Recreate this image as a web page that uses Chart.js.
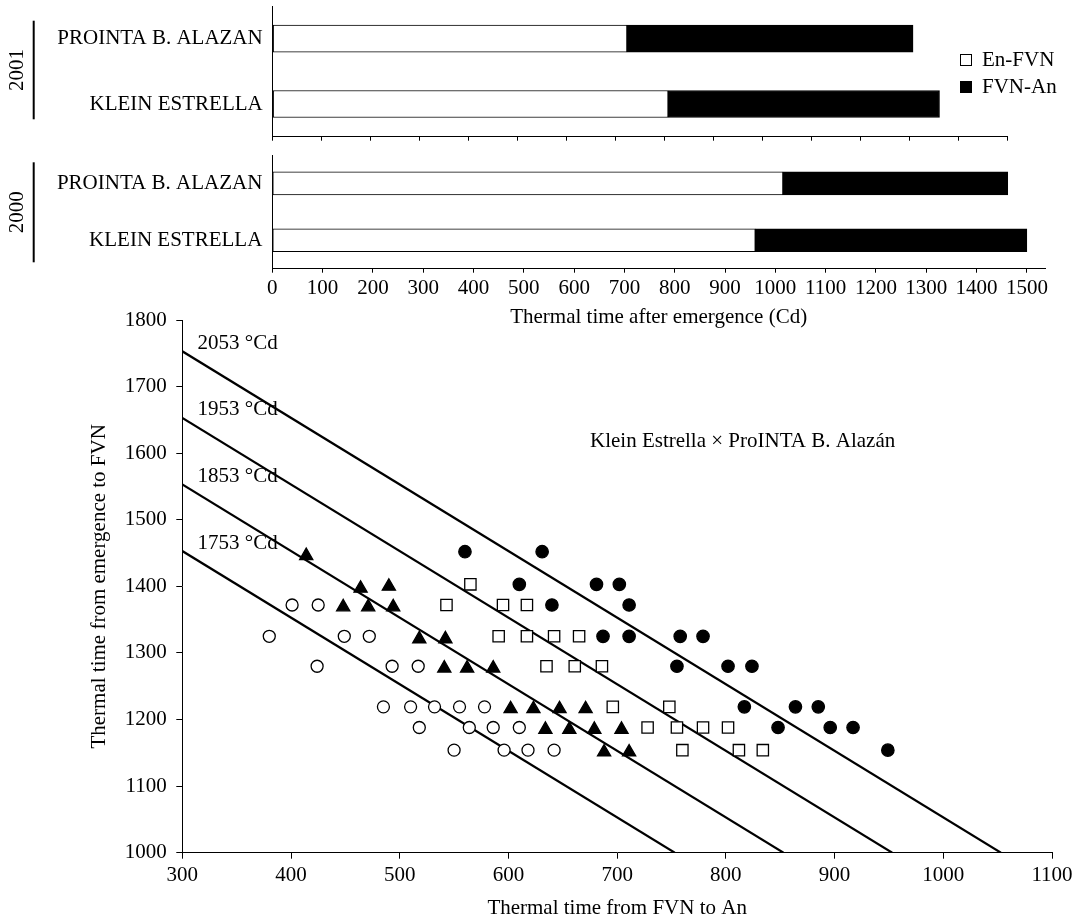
<!DOCTYPE html>
<html>
<head>
<meta charset="utf-8">
<script src="https://cdn.jsdelivr.net/npm/chart.js@4.4.0/dist/chart.umd.min.js"></script>
<style>
    html, body { margin: 0; padding: 0; background: #fff; }
    #wrap { position: relative; width: 1081px; height: 921px; overflow: hidden; background: #fff; }
    #wrap canvas { position: absolute; left: 0; }
</style>
</head>
<body>
<div id="wrap">
    <canvas id="bars2001" width="1081" height="150" style="top:0"></canvas>
    <canvas id="bars2000" width="1081" height="180" style="top:150px"></canvas>
    <canvas id="scatter" width="1081" height="621" style="top:300px"></canvas>
</div>
<script>
// cultivars, top to bottom in each panel
var cultivars = ['PROINTA B. ALAZAN', 'KLEIN ESTRELLA'];

// thermal time (Cd) of each phase
var enFvn2001 = [723, 807];
var fvnAn2001 = [584, 554];
var enFvn2000 = [1015, 960];
var fvnAn2000 = [447, 540];

// scatter: [FVN to An, emergence to FVN]
var openCircles = [[380, 1325], [401, 1372], [425, 1372], [424, 1280], [449, 1325], [472, 1325], [485, 1219],
    [493, 1280], [510, 1219], [517, 1280], [518, 1188], [532, 1219], [550, 1154], [555, 1219], [564, 1188],
    [578, 1219], [586, 1188], [596, 1154], [610, 1188], [618, 1154], [642, 1154]];
var filledTriangles = [[414, 1446], [464, 1397], [490, 1400], [448, 1369], [471, 1369], [494, 1369], [518, 1321],
    [542, 1321], [541, 1277], [562, 1277], [586, 1277], [602, 1216], [623, 1216], [647, 1216], [671, 1216],
    [634, 1185], [656, 1185], [679, 1185], [704, 1185], [688, 1151], [711, 1151]];
var openSquares = [[565, 1403], [543, 1372], [595, 1372], [617, 1372], [591, 1325], [617, 1325], [642, 1325],
    [665, 1325], [635, 1280], [661, 1280], [686, 1280], [696, 1219], [748, 1219], [728, 1188], [755, 1188],
    [779, 1188], [802, 1188], [760, 1154], [812, 1154], [834, 1154]];
var filledCircles = [[560, 1452], [631, 1452], [610, 1403], [681, 1403], [702, 1403], [640, 1372], [711, 1372],
    [687, 1325], [711, 1325], [758, 1325], [779, 1325], [755, 1280], [802, 1280], [824, 1280], [817, 1219],
    [864, 1219], [885, 1219], [848, 1188], [896, 1188], [917, 1188], [949, 1154]];

// iso thermal time lines
var isoLabels = ['1753 °Cd', '1853 °Cd', '1953 °Cd', '2053 °Cd'];
var isoStartY = [1453, 1553, 1653, 1753];   // y where x = 300
var isoEndX = [753, 853, 953, 1053];        // x where y = 1000

var FONT_FAMILY = "'Liberation Serif', 'Times New Roman', serif";
Chart.defaults.font.family = FONT_FAMILY;
Chart.defaults.font.size = 21;
Chart.defaults.color = '#000';

var plainNumber = function (value) {
    return String(value);
};

var figureText = {
    id: 'figureText',
    afterDraw: function (chart, args, opts) {
        var ctx = chart.ctx;
        ctx.save();
        ctx.fillStyle = '#000';
        ctx.strokeStyle = '#000';
        ctx.font = '21px ' + FONT_FAMILY;
        ctx.textBaseline = 'middle';
        if (opts.bracket) {
            var b = opts.bracket;
            ctx.lineWidth = 2;
            ctx.beginPath();
            ctx.moveTo(b.x, b.top);
            ctx.lineTo(b.x, b.bottom);
            ctx.stroke();
            ctx.save();
            ctx.translate(b.textX, (b.top + b.bottom) / 2);
            ctx.rotate(-Math.PI / 2);
            ctx.textAlign = 'center';
            ctx.fillText(b.text, 0, 0);
            ctx.restore();
        }
        if (opts.legend) {
            var lg = opts.legend;
            chart.data.datasets.forEach(function (ds, i) {
                var cy = lg.y + i * lg.gap;
                ctx.lineWidth = 1;
                ctx.fillStyle = ds.backgroundColor;
                ctx.fillRect(lg.x, cy - 6, 12, 12);
                ctx.strokeRect(lg.x + 0.5, cy - 5.5, 11, 11);
                ctx.fillStyle = '#000';
                ctx.textAlign = 'left';
                ctx.fillText(ds.label, lg.x + 22, cy);
            });
        }
        (opts.notes || []).forEach(function (n) {
            ctx.textAlign = 'left';
            ctx.fillText(n.text, chart.scales.x.getPixelForValue(n.x), chart.scales.y.getPixelForValue(n.y));
        });
        ctx.restore();
    }
};

// vertical axes: fixed width, and no extra room above/below for the end labels
var fixWidth = function (w) {
    return function (s) {
        s.width = w;
        s.paddingTop = 0;
        s.paddingBottom = 0;
    };
};

var barDataset = function (label, data, fill) {
    return {
        label: label,
        data: data,
        backgroundColor: fill,
        borderColor: '#000',
        borderWidth: 1,
        borderSkipped: false
    };
};

var barOptions = function (cfg) {
    return {
        indexAxis: 'y',
        responsive: false,
        animation: false,
        devicePixelRatio: 1,
        layout: { padding: { top: cfg.top, right: cfg.right, left: 0, bottom: 0 } },
        datasets: { bar: { barThickness: cfg.thickness } },
        plugins: {
            legend: { display: false },
            tooltip: { enabled: false },
            figureText: { bracket: cfg.bracket, legend: cfg.legend }
        },
        scales: {
            x: {
                stacked: true,
                min: 0,
                max: cfg.max,
                ticks: {
                    display: cfg.labels, stepSize: 100, includeBounds: false, padding: 3, color: '#000',
                    maxRotation: 0, minRotation: 0, autoSkip: false, callback: plainNumber
                },
                grid: { drawOnChartArea: false, drawTicks: true, tickLength: 4, color: '#000' },
                border: { color: '#000', width: 1 },
                title: {
                    display: !!cfg.title,
                    text: cfg.title || '',
                    padding: 0,
                    color: '#000'
                },
                afterFit: function (s) { s.height = cfg.axisHeight; }
            },
            y: {
                stacked: true,
                ticks: { padding: 10, color: '#000' },
                grid: { display: false, drawTicks: false },
                border: { color: '#000', width: 1 },
                afterFit: fixWidth(cfg.left)
            }
        }
    };
};

new Chart(document.getElementById('bars2001'), {
    type: 'bar',
    data: {
        labels: cultivars,
        datasets: [barDataset('En-FVN', enFvn2001, '#fff'), barDataset('FVN-An', fvnAn2001, '#000')]
    },
    options: barOptions({
        top: 6, right: 73.4, left: 272.7, max: 1500, thickness: 27, labels: false, axisHeight: 13.3,
        bracket: { x: 33.7, top: 20.7, bottom: 119.3, textX: 17, text: '2001' },
        legend: { x: 960, y: 60, gap: 27 }
    }),
    plugins: [figureText]
});

new Chart(document.getElementById('bars2000'), {
    type: 'bar',
    data: {
        labels: cultivars,
        datasets: [barDataset('En-FVN', enFvn2000, '#fff'), barDataset('FVN-An', fvnAn2000, '#000')]
    },
    options: barOptions({
        top: 5, right: 36, left: 272.3, max: 1536, thickness: 23, labels: true, axisHeight: 61.3,
        title: 'Thermal time after emergence (Cd)',
        bracket: { x: 33.7, top: 12.3, bottom: 112.3, textX: 17, text: '2000' }
    }),
    plugins: [figureText]
});

var markerSet = function (label, points, style, fill, radius) {
    return {
        label: label,
        data: points.map(function (p) { return { x: p[0], y: p[1] }; }),
        pointStyle: style,
        pointRadius: radius,
        pointBackgroundColor: fill,
        pointBorderColor: '#000',
        pointBorderWidth: 1.3,
        showLine: false
    };
};

var scatterSets = [
    markerSet('open circles', openCircles, 'circle', '#fff', 6),
    markerSet('filled triangles', filledTriangles, 'triangle', '#000', 7.6),
    markerSet('open squares', openSquares, 'rect', '#fff', 8),
    markerSet('filled circles', filledCircles, 'circle', '#000', 6.2)
];
isoLabels.forEach(function (lab, i) {
    scatterSets.push({
        label: lab,
        data: [{ x: 300, y: isoStartY[i] }, { x: isoEndX[i], y: 1000 }],
        showLine: true,
        borderColor: '#000',
        borderWidth: 2.2,
        pointRadius: 0
    });
});

var axisCommon = {
    grid: { drawOnChartArea: false, drawTicks: true, tickLength: 6, color: '#000' },
    border: { color: '#000', width: 1 }
};

new Chart(document.getElementById('scatter'), {
    type: 'scatter',
    data: { datasets: scatterSets },
    options: {
        responsive: false,
        animation: false,
        devicePixelRatio: 1,
        layout: { padding: { top: 20, right: 29, left: 0, bottom: 0 } },
        plugins: {
            legend: { display: false },
            tooltip: { enabled: false },
            figureText: {
                notes: isoLabels.map(function (lab, i) {
                    return { text: lab, x: 314, y: isoStartY[i] + 12 };
                }).concat([{ text: 'Klein Estrella × ProINTA B. Alazán', x: 675, y: 1618 }])
            }
        },
        scales: {
            x: Object.assign({}, axisCommon, {
                type: 'linear',
                min: 300,
                max: 1100,
                ticks: { stepSize: 100, padding: 3.7, color: '#000', maxRotation: 0, callback: plainNumber },
                title: { display: true, text: 'Thermal time from FVN to An', padding: 0, color: '#000' },
                afterFit: function (s) { s.height = 68.3; }
            }),
            y: Object.assign({}, axisCommon, {
                min: 1000,
                max: 1800,
                ticks: { stepSize: 100, padding: 9.6, color: '#000', callback: plainNumber },
                title: { display: true, text: 'Thermal time from emergence to FVN', padding: { top: 87, bottom: 0 }, color: '#000' },
                afterFit: fixWidth(182.3)
            })
        }
    },
    plugins: [figureText]
});
</script>
</body>
</html>
